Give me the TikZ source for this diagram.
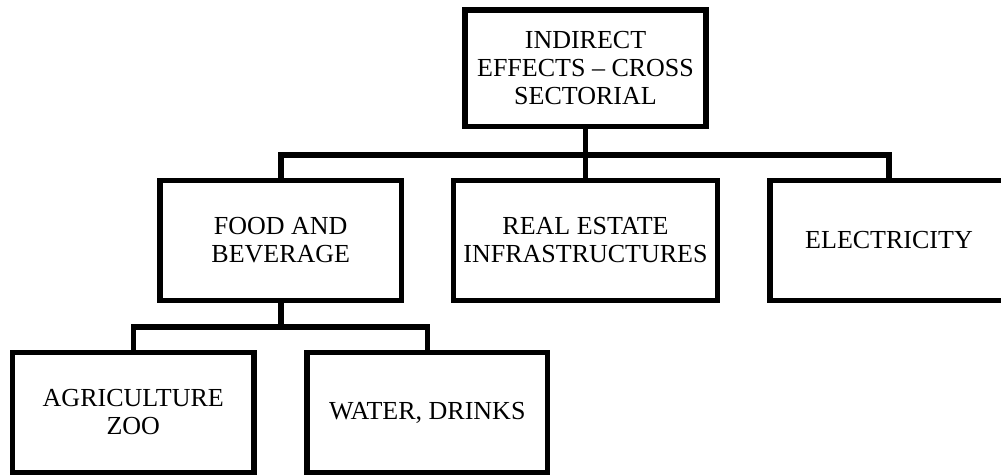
\documentclass[tikz,border=0pt]{standalone}
\usepackage{fontspec}
\setmainfont{Liberation Serif}
\begin{document}
\begin{tikzpicture}[x=1pt,y=-1pt,
  box/.style={draw=black, line width=5.5pt, rectangle, align=center, inner sep=0pt,
    font=\fontsize{26}{28}\selectfont, minimum height=120pt},
  conn/.style={draw=black, line width=5.5pt}]
\useasboundingbox (0,0) rectangle (1001,475);
\node[box, minimum width=241pt, minimum height=116.5pt] (top) at (585.5,68.25) {INDIRECT\\EFFECTS – CROSS\\SECTORIAL};
\node[box, minimum width=241.5pt] (food) at (280.75,240.5) {FOOD AND\\BEVERAGE};
\node[box, minimum width=264pt] (real) at (585.5,240.5) {REAL ESTATE\\INFRASTRUCTURES};
\node[box, minimum width=238pt] (elec) at (889,240.5) {ELECTRICITY};
\node[box, minimum width=241.5pt] (agri) at (133.25,412.5) {AGRICULTURE\\ZOO};
\node[box, minimum width=240.5pt] (water) at (427.25,412.5) {WATER, DRINKS};
\coordinate (j1) at (585.5,155);
\coordinate (j2) at (280.75,327);
\draw[conn] (top.south) -- (j1);
\draw[conn] (j1) -- (real.north);
\draw[conn] (food.north) -- (food.north |- j1) -- (elec.north |- j1) -- (elec.north);
\draw[conn] (food.south) -- (j2);
\draw[conn] (agri.north) -- (agri.north |- j2) -- (water.north |- j2) -- (water.north);
\end{tikzpicture}
\end{document}
